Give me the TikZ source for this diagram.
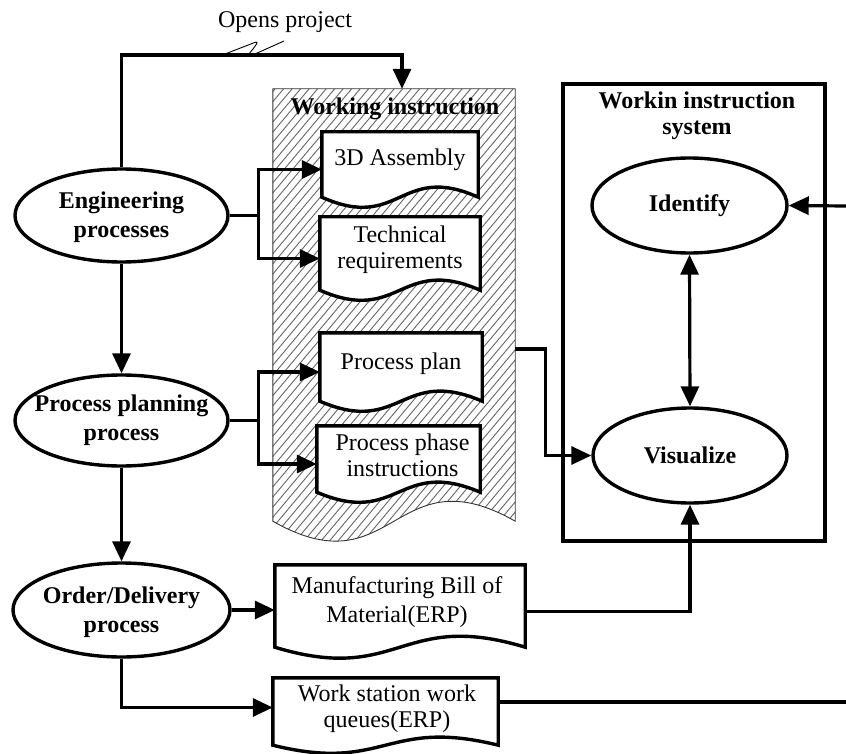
\documentclass[tikz,border=0pt]{standalone}
\usepackage{fontspec}
\setmainfont{Liberation Serif}
\usetikzlibrary{arrows.meta,calc,shapes.geometric}

% Document symbol: straight top and sides, wavy bottom edge.
% #1 path options, #2 node, #3 depth of the trough below the side ends,
% #4 offset of the wave's control points
\newcommand{\docoutline}[4]{%
  \path[#1] ($(#2.south west)+(0,-#3)$) -- (#2.north west) -- (#2.north east)
    -- ($(#2.south east)+(0,-#3)$)
    .. controls ($(#2.south)+(0,-#3-#4)$) and ($(#2.south)+(0,-#3+#4)$)
    .. ($(#2.south west)+(0,-#3)$) -- cycle;}

\begin{document}
\begin{tikzpicture}[x=1pt, y=-1pt,
  txt/.style={font=\fontsize{24}{26}\selectfont, inner sep=0pt, align=center},
  boldtxt/.style={font=\bfseries\fontsize{24}{29}\selectfont, inner sep=0pt, align=center},
  proc/.style={ellipse, draw, line width=3.4pt, fill=white, inner sep=0pt},
  frame/.style={rectangle, inner sep=0pt},
  link/.style={line width=3.2pt},
  arr/.style={link, -{Triangle[length=20pt,width=18pt]}},
  dblarr/.style={link, {Triangle[length=20pt,width=18pt]}-{Triangle[length=20pt,width=18pt]}},
  hatch/.style={draw=black!60, line width=0.9pt},
  thinline/.style={line width=0.9pt},
]
\useasboundingbox (0,0) rectangle (846,754);

% ---- hatched working-instruction folder
\node[frame, minimum width=242pt, minimum height=452pt] (wi) at (394,315) {};
\begin{scope}
  \docoutline{clip}{wi}{20}{69}
  \foreach \k in {0,...,76} {\draw[hatch] ({\k*8.5-120},560) -- ++(400,-477);}
\end{scope}
\docoutline{draw=black!80, line width=0.9pt}{wi}{20}{69}
\node[boldtxt, anchor=base] (wititle) at (395,115) {Working instruction};

% ---- document boxes
\node[frame, minimum width=156pt, minimum height=75pt] (asm)   at (400,169.5) {};
\node[frame, minimum width=160pt, minimum height=83pt] (tech)  at (400,258.5) {};
\node[frame, minimum width=162pt, minimum height=78pt] (pplan) at (401,372) {};
\node[frame, minimum width=163pt, minimum height=76pt] (phase) at (398.5,464) {};
\node[frame, minimum width=250pt, minimum height=93pt] (mb)    at (400,611.5) {};
\node[frame, minimum width=225pt, minimum height=75pt] (ws)    at (385.5,715.5) {};
\foreach \nm/\dep/\ctl in {asm/10/35, tech/10/35, pplan/10/35, phase/10/35, mb/11/38, ws/8/28}
  {\docoutline{draw, line width=3.4pt, fill=white}{\nm}{\dep}{\ctl}}

\node[txt] (asm-t)   at ([yshift=10pt]asm.center) {3D Assembly};
\node[txt] (tech-t)  at ([yshift=9pt]tech.center) {Technical\\requirements};
\node[txt] (pplan-t) at ([yshift=8pt]pplan.center) {Process plan};
\node[txt] (phase-t) at ([xshift=4pt,yshift=9pt]phase.center) {Process phase\\instructions};
\node[txt, font=\fontsize{24}{29}\selectfont] (mb-t) at ([xshift=-3pt,yshift=9.5pt]mb.center) {Manufacturing Bill of\\Material(ERP)};
\node[txt] (ws-t)    at ([xshift=1.5pt,yshift=6.5pt]ws.center) {Work station work\\queues(ERP)};

% ---- process ellipses
\node[proc, minimum width=213pt, minimum height=93pt] (eng) at (121.5,215.5) {};
\node[boldtxt] (eng-t) at ([yshift=-1.5pt]eng.center) {Engineering\\processes};
\node[proc, minimum width=213pt, minimum height=91pt] (ppr) at (121.5,420.5) {};
\node[boldtxt] (ppr-t) at (ppr.center) {Process planning\\process};
\node[proc, minimum width=217pt, minimum height=94pt] (ord) at (121.5,610) {};
\node[boldtxt] (ord-t) at ([yshift=-2pt]ord.center) {Order/Delivery\\process};

% ---- working instruction system
\node[frame, draw, line width=3.4pt, minimum width=262pt, minimum height=457pt] (wis) at (694,312.5) {};
\node[boldtxt, font=\bfseries\fontsize{24}{26}\selectfont] (wis-t) at (697,116) {Workin instruction\\system};
\node[proc, minimum width=195pt, minimum height=95pt] (id) at (689.5,205.5) {};
\node[boldtxt] (id-t) at (id.center) {Identify};
\node[proc, minimum width=194pt, minimum height=95pt] (vis) at (690,455.5) {};
\node[boldtxt] (vis-t) at (vis.center) {Visualize};

% ---- connectors
\draw[link] (eng.east) -- ++(29,0) coordinate (ej);
\draw[arr] (ej) |- (asm.west);
\draw[arr] (ej) |- (tech.west);
\draw[link] (ppr.east) -- ++(29,0) coordinate (pj);
\draw[arr] (pj) |- (pplan.west);
\draw[arr] (pj) |- (phase.west);
\draw[arr] (eng.south) -- (ppr.north);
\draw[arr] (ppr.south) -- (ord.north);
\draw[arr] (ord.east) -- (ord.east -| mb.west);
\draw[arr] (ord.south) |- ([yshift=8pt]ws.west);

\coordinate (op) at (402,55);
\draw[arr] (eng.north) |- (op) -- (op |- wi.north);

\coordinate (ppo) at ($(wi.east |- pplan.east)+(0,-23)$);
\draw[arr] (ppo) -- ++(30,0) |- (vis.west);
\draw[arr] (mb.east) -| (vis.south);
\draw[dblarr] (id.south) -- (vis.north);

\coordinate (rin) at (846,206);
\draw[arr] (rin) -- (id.east);
\coordinate (rout) at (846,702);
\draw[link] (rout -| ws.east) -- (rout);

% ---- annotation of the top connector
\node[txt, anchor=base] (opl) at (285,28) {Opens project};
\draw[thinline] (225,54) -- (256,42) .. controls (260,41) and (252,50) .. (249,54);
\draw[thinline] (255,54) -- (284,41);
\end{tikzpicture}
\end{document}
